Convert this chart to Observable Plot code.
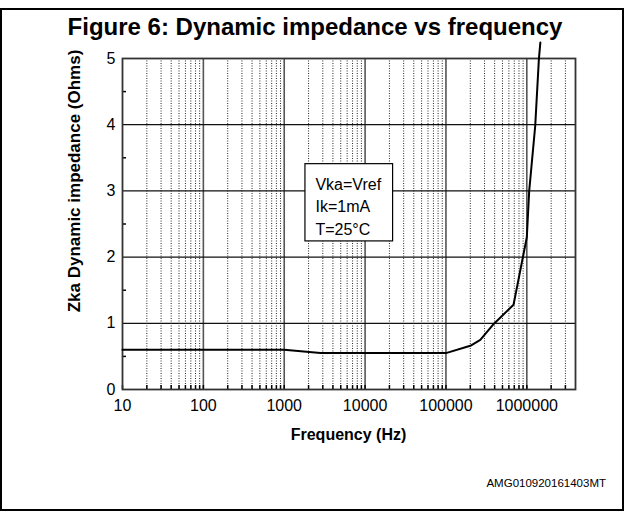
<!DOCTYPE html>
<html><head><meta charset="utf-8">
<script src="https://cdn.jsdelivr.net/npm/d3@7"></script>
<script src="https://cdn.jsdelivr.net/npm/@observablehq/plot@0.6"></script>
<style>
body{margin:0;background:#fff;}
</style>
</head><body>
<div id="chart"></div>
<script>
// Data
const freqHz    = [10, 1000, 2800, 100000, 200000, 266000, 390000, 685000, 1000000, 1070000, 1270000, 1410000, 1470000];
const impedance = [0.6, 0.6, 0.55, 0.55, 0.66, 0.75, 0.99, 1.28, 2.3, 3.0, 3.98, 4.99, 5.24];

const xMajorTicks = [10, 100, 1000, 10000, 100000, 1000000];
const xMinorMultipliers = [2, 3, 4, 5, 6, 7, 8, 9];
const xExtraMinor = [2000000, 3000000];
const yTicks = [0, 1, 2, 3, 4, 5];
const yGridLines = [1, 2, 3, 4];
const yHalfTicks = [0.5, 1.5, 2.5, 3.5, 4.5];

const noteLines = ["Vka=Vref", "Ik=1mA", "T=25°C"];
const noteBox = [{x1: 1830, x2: 22200, y1: 2.237, y2: 3.404}];

const titleText = "Figure 6: Dynamic impedance vs frequency";
const xLabel = "Frequency (Hz)";
const yLabel = "Zka Dynamic impedance (Ohms)";
const captionText = "AMG010920161403MT";

const xMinorTicks = [];
xMajorTicks.forEach(d => xMinorMultipliers.forEach(k => { const v = k * d; if (v < 1000000) xMinorTicks.push(v); }));
xMinorTicks.push(...xExtraMinor);
const allXTicks = [...xMajorTicks, ...xMinorTicks];

const FONT = "'Liberation Sans', Arial, Helvetica, sans-serif";

const svg = Plot.plot({
  width: 629, height: 514,
  marginLeft: 122, marginRight: 54, marginTop: 58, marginBottom: 125,
  x: {type: "log", domain: [10, 4000000]},
  y: {domain: [0, 5]},
  style: {fontFamily: FONT, fontSize: "16px", color: "#000", background: "#fff"},
  marks: [
    Plot.gridX(xMinorTicks, {stroke: "#000", strokeOpacity: 0.85, strokeWidth: 1, strokeDasharray: "1,1.5"}),
    Plot.gridX(xMajorTicks.slice(1), {stroke: "#555", strokeOpacity: 1, strokeWidth: 1.6}),
    Plot.gridY(yGridLines, {stroke: "#111", strokeOpacity: 1, strokeWidth: 1.2}),
    Plot.ruleX(allXTicks, {y1: 0, y2: 0.06, stroke: "#000", strokeWidth: 1.5}),
    Plot.ruleY(yHalfTicks, {x1: 10, x2: 11.2, stroke: "#000", strokeWidth: 1.5}),
    Plot.axisX(xMajorTicks, {tickSize: 0, tickPadding: 10, tickFormat: d => String(d), label: null, fontSize: 16}),
    Plot.axisY(yTicks, {tickSize: 0, tickPadding: 7, tickFormat: d => String(d), label: null, fontSize: 16}),
    Plot.frame({stroke: "#333", strokeWidth: 1.8}),
    Plot.rect(noteBox, {x1: "x1", x2: "x2", y1: "y1", y2: "y2", fill: "#fff", stroke: "#000", strokeWidth: 1.2}),
    Plot.text(noteBox, {x: "x1", y: "y2", text: () => noteLines.join("\n"), textAnchor: "start", lineAnchor: "top", dx: 10, dy: 10, lineHeight: 1.4, fontSize: 16, fill: "#000"}),
    Plot.line(impedance, {x: freqHz, y: impedance, stroke: "#000", strokeWidth: 2})
  ]
});

const s = d3.select(svg);
s.append("rect").attr("x", 1).attr("y", 9).attr("width", 622).attr("height", 501)
  .attr("fill", "none").attr("stroke", "#000").attr("stroke-width", 2);
s.append("text").attr("x", 315).attr("y", 35).attr("text-anchor", "middle")
  .attr("font-family", FONT).attr("font-weight", "bold").attr("font-size", 24).attr("fill", "#000").text(titleText);
s.append("text").attr("transform", "translate(80,181) rotate(-90)").attr("text-anchor", "middle")
  .attr("font-family", FONT).attr("font-weight", "bold").attr("font-size", 17).attr("fill", "#000").text(yLabel);
s.append("text").attr("x", 348.5).attr("y", 439.5).attr("text-anchor", "middle")
  .attr("font-family", FONT).attr("font-weight", "bold").attr("font-size", 16).attr("fill", "#000").text(xLabel);
s.append("text").attr("x", 606).attr("y", 487).attr("text-anchor", "end")
  .attr("font-family", FONT).attr("font-size", 11.5).attr("fill", "#000").text(captionText);

document.getElementById("chart").appendChild(svg);
</script>
</body></html>
